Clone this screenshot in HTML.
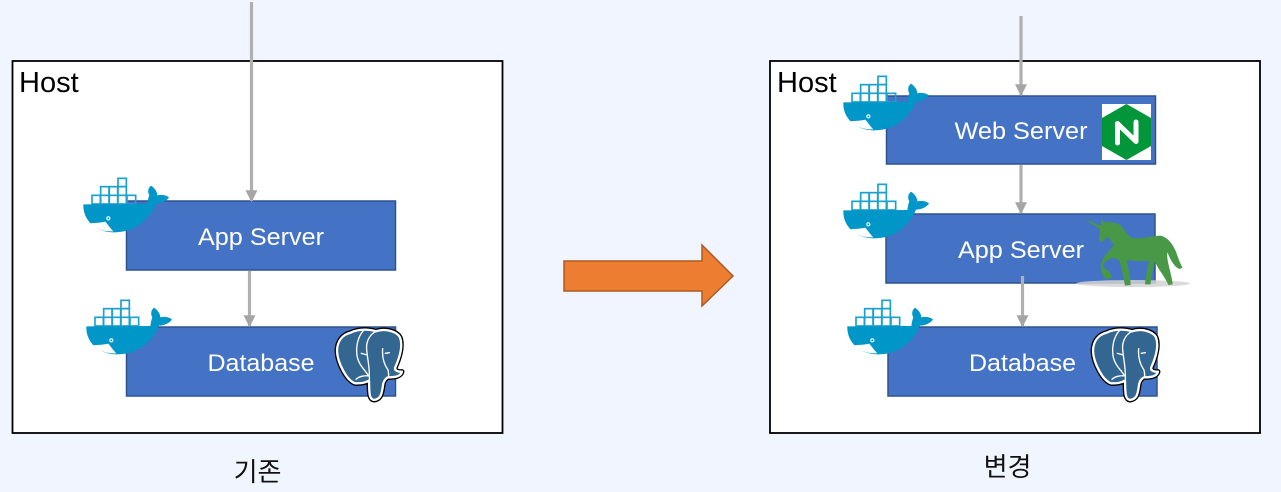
<!DOCTYPE html>
<html>
<head>
<meta charset="utf-8">
<style>
html,body{margin:0;padding:0;background:#f0f5ff;}
svg{display:block;}
text{font-family:"Liberation Sans","Noto Sans CJK KR",sans-serif;}
</style>
</head>
<body>
<svg width="1281" height="492" viewBox="0 0 1281 492" xmlns="http://www.w3.org/2000/svg">
<defs>
<g id="whale">
  <g fill="#fff" stroke="#1ba2cc" stroke-width="5">
    <rect x="66" y="76" width="25" height="26"/>
    <rect x="92" y="50" width="25" height="26"/>
    <rect x="92" y="76" width="25" height="26"/>
    <rect x="118" y="50" width="25" height="26"/>
    <rect x="118" y="76" width="25" height="26"/>
    <rect x="144" y="25" width="25" height="25"/>
    <rect x="144" y="50" width="25" height="26"/>
    <rect x="144" y="76" width="25" height="26"/>
    <rect x="171" y="76" width="26" height="26" fill="none"/>
  </g>
  <path fill="#0096c8" d="M40,103 L232,102 C234,88 236,80 238,76 C232,66 234,54 243,47 C254,54 262,66 262,76 C274,73 288,75 297,82 C290,94 274,100 258,101 C244,136 206,188 130,187 C76,186 38,150 40,103 Z"/>
  <path fill="#fff" d="M60,160 C76,159 94,158 106,155 C114,165 122,176 130,184 C100,185 76,176 60,160 Z"/>
  <circle cx="115" cy="145" r="6.500" fill="#d8eef6"/>
  <circle cx="115" cy="145" r="2.500" fill="#0096c8"/>
</g>
<g id="elephant">
  <path fill="#000" stroke="#000" stroke-width="15" stroke-linejoin="round" d="M92,38 C118,25 150,28 168,34 C190,26 228,30 240,52 C250,78 238,115 226,142 C222,152 236,156 246,155 C242,170 224,172 206,172 C202,172 194,178 190,190 C186,214 186,238 162,240 C146,238 148,214 147,182 C134,190 120,190 106,190 C82,184 52,130 51,92 C52,62 68,44 92,38 Z"/>
  <path fill="#336791" stroke="#fff" stroke-width="7" stroke-linejoin="round" d="M92,38 C118,25 150,28 168,34 C190,26 228,30 240,52 C250,78 238,115 226,142 C222,152 236,156 246,155 C242,170 224,172 206,172 C202,172 194,178 190,190 C186,214 186,238 162,240 C146,238 148,214 147,182 C134,190 120,190 106,190 C82,184 52,130 51,92 C52,62 68,44 92,38 Z"/>
  <path fill="none" stroke="#fff" stroke-width="4" stroke-linecap="round" d="M130,32 C114,50 106,80 112,112 C118,138 136,150 146,168 C136,166 118,168 108,178 M168,34 C148,44 138,66 140,88 C142,118 150,140 148,182 M188,86 C186,110 190,130 204,150 C206,158 206,164 206,172 M124,100 L138,104 M196,100 L208,98"/>
</g>
<marker id="ah" viewBox="0 0 10 10" refX="9" refY="5" markerWidth="12" markerHeight="12" markerUnits="userSpaceOnUse" orient="auto"><path d="M0,0 L10,5 L0,10 Z" fill="#a5a5a5"/></marker>
</defs>

<rect width="1281" height="492" fill="#f0f5ff"/>

<!-- Hosts -->
<rect x="12.500" y="61" width="490" height="372" fill="#fff" stroke="#000" stroke-width="1.800"/>
<rect x="770" y="61" width="490" height="372" fill="#fff" stroke="#000" stroke-width="1.800"/>
<text x="19" y="92" font-size="29" fill="#000">Host</text>
<text x="777" y="92" font-size="29" fill="#000">Host</text>

<!-- Left boxes -->
<rect x="126.500" y="201" width="269" height="69" fill="#4472c4" stroke="#2f528f" stroke-width="1.500"/>
<rect x="126.500" y="327" width="269" height="69" fill="#4472c4" stroke="#2f528f" stroke-width="1.500"/>
<text x="261" y="245" font-size="24" fill="#fff" text-anchor="middle" textLength="126" lengthAdjust="spacingAndGlyphs">App Server</text>
<text x="261" y="371" font-size="24" fill="#fff" text-anchor="middle" textLength="107" lengthAdjust="spacingAndGlyphs">Database</text>

<!-- Right boxes -->
<rect x="886.500" y="96" width="269" height="68" fill="#4472c4" stroke="#2f528f" stroke-width="1.500"/>
<rect x="886" y="214" width="269" height="69" fill="#4472c4" stroke="#2f528f" stroke-width="1.500"/>
<rect x="888" y="327" width="269" height="69" fill="#4472c4" stroke="#2f528f" stroke-width="1.500"/>
<text x="1021" y="139" font-size="24" fill="#fff" text-anchor="middle" textLength="133" lengthAdjust="spacingAndGlyphs">Web Server</text>
<text x="1021" y="258" font-size="24" fill="#fff" text-anchor="middle" textLength="126" lengthAdjust="spacingAndGlyphs">App Server</text>
<text x="1022.500" y="371" font-size="24" fill="#fff" text-anchor="middle" textLength="107" lengthAdjust="spacingAndGlyphs">Database</text>

<!-- Connectors -->
<g stroke="#b0b0b0" stroke-width="3.200" fill="none">
  <line x1="251.500" y1="2" x2="251.500" y2="201" marker-end="url(#ah)"/>
  <line x1="249.500" y1="271" x2="249.500" y2="326" marker-end="url(#ah)"/>
  <line x1="1021" y1="16" x2="1021" y2="95" marker-end="url(#ah)"/>
  <line x1="1021" y1="165" x2="1021" y2="213" marker-end="url(#ah)"/>
  <line x1="1022.500" y1="276" x2="1022.500" y2="326" marker-end="url(#ah)"/>
</g>

<!-- Big arrow -->
<polygon points="564,261 702,261 702,245 733,276 702,306 702,291 564,291" fill="#ed7d31" stroke="#ae5a21" stroke-width="1.500"/>

<!-- Docker whales -->
<use href="#whale" transform="translate(70,170) scale(0.3333)"/>
<use href="#whale" transform="translate(73,292) scale(0.3333)"/>
<use href="#whale" transform="translate(830,68) scale(0.3333)"/>
<use href="#whale" transform="translate(830,176) scale(0.3333)"/>
<use href="#whale" transform="translate(834,292) scale(0.3333)"/>

<!-- PostgreSQL elephants -->
<use href="#elephant" transform="translate(320,320) scale(0.3333)"/>
<use href="#elephant" transform="translate(1076,320) scale(0.3333)"/>

<!-- Nginx -->
<rect x="1102" y="104" width="49" height="56" fill="#fff"/>
<polygon points="1126.500,104 1151,118 1151,146 1126.500,160 1102,146 1102,118" fill="#009639"/>
<path d="M1117.500,143 L1117.500,123.500 L1136,141.500 L1136,122" fill="none" stroke="#fff" stroke-width="5" stroke-linejoin="round" stroke-linecap="round"/>

<!-- Gunicorn unicorn -->
<ellipse cx="1133" cy="283.500" rx="57" ry="3.500" fill="#d4d4d4" opacity="0.85"/>
<g transform="translate(1070,205) scale(0.3333)">
<path fill="#499848" d="M42,42 L92,62 L95,42 L103,52 C130,48 150,55 160,70 C172,90 180,100 200,100 C225,100 250,92 272,92 C295,98 308,118 318,140 C325,160 330,175 338,188 L328,192 C312,185 302,165 292,142 C288,165 305,205 308,238 L295,240 C285,215 265,195 255,170 C248,190 243,215 242,238 L225,238 C228,210 232,185 238,168 C215,170 190,168 170,165 C175,190 182,220 182,240 L165,242 C160,215 155,190 148,168 C135,155 125,158 110,168 C100,175 98,180 102,188 C112,195 125,205 125,215 C122,222 112,224 106,220 C95,208 88,190 94,172 C100,150 125,135 130,120 C125,110 120,100 112,95 C105,105 98,112 90,110 C84,105 90,90 90,72 Z"/>
</g>

<!-- Captions -->
<text x="257.500" y="481" font-size="26" fill="#111" text-anchor="middle">기존</text>
<text x="1007.500" y="476" font-size="26" fill="#111" text-anchor="middle">변경</text>
</svg>
</body>
</html>
